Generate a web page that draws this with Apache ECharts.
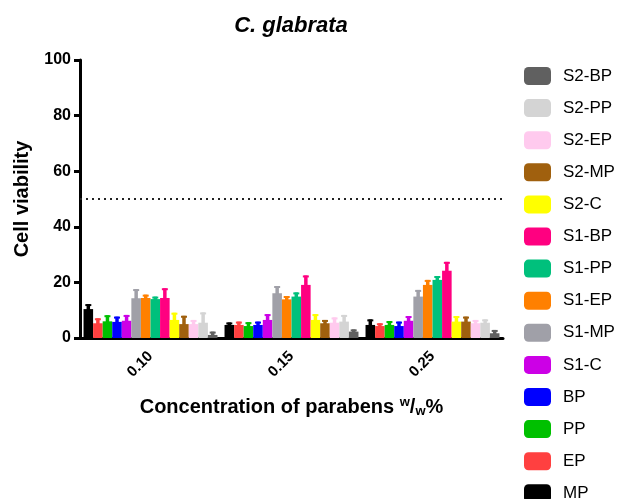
<!DOCTYPE html>
<html><head><meta charset="utf-8">
<script src="https://cdn.jsdelivr.net/npm/echarts@6/dist/echarts.min.js"></script>
<style>html,body{margin:0;padding:0;background:#fff}#c{width:620px;height:499px}</style>
</head><body><div id="c"></div>
<script>
var categories = ['0.10', '0.15', '0.25'];
var seriesNames = ['MP','EP','PP','BP','S1-C','S1-MP','S1-EP','S1-PP','S1-BP','S2-C','S2-MP','S2-EP','S2-PP','S2-BP'];
var colors = ['#000000','#ff4040','#00c000','#0000ff','#cc00e6','#a0a0a8','#ff8000','#00c07c','#ff0080','#ffff00','#a0600e','#ffcaee','#d4d4d4','#606060'];
var MP = [10.4, 4.7, 4.7],   MP_err = [1.8, 0.9, 2.0];
var EP = [5.3, 4.7, 4.3],    EP_err = [1.8, 1.2, 1.0];
var PP = [6.0, 4.3, 4.7],    PP_err = [2.2, 1.4, 1.4];
var BP = [5.8, 4.7, 4.3],    BP_err = [1.9, 1.2, 1.6];
var S1_C = [6.2, 6.5, 6.2],  S1_C_err = [2.1, 2.1, 1.7];
var S1_MP = [14.3, 16.1, 14.9], S1_MP_err = [3.3, 2.6, 2.4];
var S1_EP = [14.4, 13.9, 19.1], S1_EP_err = [1.2, 1.2, 1.8];
var S1_PP = [14.0, 14.9, 20.9], S1_PP_err = [0.9, 1.5, 1.4];
var S1_BP = [14.4, 19.1, 24.2], S1_BP_err = [3.5, 3.4, 3.2];
var S2_C = [6.5, 6.5, 5.9],  S2_C_err = [2.6, 2.1, 2.0];
var S2_MP = [5.0, 5.3, 5.9], S2_MP_err = [3.0, 1.2, 1.8];
var S2_EP = [5.0, 5.5, 5.3], S2_EP_err = [1.5, 1.9, 1.2];
var S2_PP = [5.5, 5.9, 5.5], S2_PP_err = [3.7, 2.4, 1.2];
var S2_BP = [1.1, 2.3, 1.7], S2_BP_err = [1.2, 0.8, 1.2];
var threshold = 50;
var yTicks = [0, 20, 40, 60, 80, 100];

var means = [MP, EP, PP, BP, S1_C, S1_MP, S1_EP, S1_PP, S1_BP, S2_C, S2_MP, S2_EP, S2_PP, S2_BP];
var errs = [MP_err, EP_err, PP_err, BP_err, S1_C_err, S1_MP_err, S1_EP_err, S1_PP_err, S1_BP_err, S2_C_err, S2_MP_err, S2_EP_err, S2_PP_err, S2_BP_err];

var FONT = "'Liberation Sans', Arial, sans-serif";
var GAP = 0.05;
var N = seriesNames.length;

var series = [];
seriesNames.forEach(function (name, i) {
  var s = {
    name: name, type: 'bar', data: means[i],
    barGap: '0%', barCategoryGap: (GAP * 100) + '%',
    itemStyle: { color: colors[i] }, z: 2
  };
  if (i === 0) {
    s.markLine = {
      silent: true, symbol: 'none', label: { show: false },
      lineStyle: { type: [2, 4], color: '#222', width: 2 },
      data: [{ yAxis: threshold }]
    };
  }
  series.push(s);
});
seriesNames.forEach(function (name, i) {
  series.push({
    name: name + '_err', type: 'custom', z: 3,
    data: categories.map(function (c, k) { return [k, means[i][k], errs[i][k]]; }),
    encode: { x: 0, y: 1 },
    renderItem: function (params, api) {
      var k = api.value(0), m = api.value(1), e = api.value(2);
      var base = api.coord([k, m]);
      var top = api.coord([k, m + e]);
      var band = api.size([1, 0])[0];
      var bw = band * (1 - GAP) / N;
      var x = base[0] + (i - (N - 1) / 2) * bw;
      var c = colors[i];
      return { type: 'group', children: [
        { type: 'line', shape: { x1: x, y1: base[1] + 1, x2: x, y2: top[1] }, style: { stroke: c, lineWidth: 3.5 } },
        { type: 'line', shape: { x1: x - 3, y1: top[1] + 1, x2: x + 3, y2: top[1] + 1 }, style: { stroke: c, lineWidth: 2 } }
      ]};
    }
  });
});

var chart = echarts.init(document.getElementById('c'), null, { renderer: 'canvas' });
chart.setOption({
  animation: false,
  textStyle: { fontFamily: FONT },
  title: {
    text: 'C. glabrata', left: 286, top: 10, textAlign: 'center',
    textStyle: { fontFamily: FONT, fontSize: 22, fontWeight: 'bold', fontStyle: 'italic', color: '#000' }
  },
  legend: {
    orient: 'vertical', left: 524, top: 67, height: 700, padding: 0,
    data: seriesNames.slice().reverse(),
    itemWidth: 27, itemHeight: 18, itemGap: 14.1,
    icon: 'roundRect',
    textStyle: { fontFamily: FONT, fontSize: 17, color: '#000', padding: [0, 0, 0, 7] }
  },
  grid: { left: 80, right: 117, top: 60, bottom: 161 },
  xAxis: {
    type: 'category', data: categories,
    name: 'Concentration of parabens {sup|w}/{sub|w}%',
    nameLocation: 'middle', nameGap: 58,
    nameTextStyle: {
      fontFamily: FONT, fontSize: 20, fontWeight: 'bold', color: '#000',
      rich: {
        sup: { fontFamily: FONT, fontSize: 13, fontWeight: 'bold', color: '#000', verticalAlign: 'top', padding: [0, 0, 9, 0] },
        sub: { fontFamily: FONT, fontSize: 13, fontWeight: 'bold', color: '#000', verticalAlign: 'bottom', padding: [7, 0, 0, 0] }
      }
    },
    axisLine: { lineStyle: { color: '#000', width: 3 } },
    axisTick: { alignWithLabel: true, length: 6, lineStyle: { color: '#000', width: 3 } },
    axisLabel: { rotate: 45, margin: 16, fontFamily: FONT, fontSize: 15, fontWeight: 'bold', color: '#000' }
  },
  yAxis: {
    type: 'value', min: yTicks[0], max: yTicks[yTicks.length - 1], interval: yTicks[1] - yTicks[0],
    name: 'Cell viability', nameLocation: 'middle', nameGap: 48,
    nameTextStyle: { fontFamily: FONT, fontSize: 20, fontWeight: 'bold', color: '#000' },
    axisLine: { show: true, lineStyle: { color: '#000', width: 3 } },
    axisTick: { show: true, length: 6, lineStyle: { color: '#000', width: 3 } },
    axisLabel: { margin: 9, fontFamily: FONT, fontSize: 16, fontWeight: 'bold', color: '#000' },
    splitLine: { show: false }
  },
  series: series
});
</script></body></html>
